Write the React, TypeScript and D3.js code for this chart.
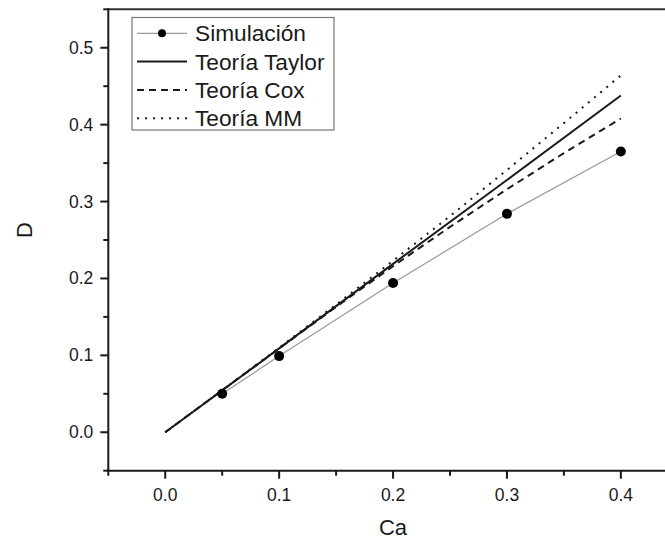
import React, { useEffect, useRef } from "react";
import * as d3 from "d3";

const simCa = [0.05, 0.1, 0.2, 0.3, 0.4];
const simD = [0.05, 0.099, 0.194, 0.284, 0.365];

const taylorCa = [0, 0.1, 0.2, 0.3, 0.4];
const taylorD = [0, 0.109, 0.219, 0.328, 0.438];

const coxCa = [0, 0.05, 0.1, 0.15, 0.2, 0.25, 0.3, 0.35, 0.4];
const coxD = [0, 0.0546, 0.109, 0.163, 0.216, 0.267, 0.316, 0.363, 0.408];

const mmCa = [0, 0.05, 0.1, 0.15, 0.2, 0.25, 0.3, 0.35, 0.4];
const mmD = [0, 0.0547, 0.11, 0.166, 0.223, 0.281, 0.341, 0.402, 0.464];

const xTicks = [0, 0.1, 0.2, 0.3, 0.4];
const yTicks = [0, 0.1, 0.2, 0.3, 0.4, 0.5];
const xMinor = [-0.05, 0.05, 0.15, 0.25, 0.35, 0.45];
const yMinor = [-0.05, 0.05, 0.15, 0.25, 0.35, 0.45, 0.55];

const legendLabels = ["Simulación", "Teoría Taylor", "Teoría Cox", "Teoría MM"];

const W = 665;
const H = 540;
const FONT = "'Liberation Sans', Arial, Helvetica, sans-serif";
const INK = "#1a1a1a";

export default function App() {
  const ref = useRef<SVGSVGElement | null>(null);

  useEffect(() => {
    const svg = d3.select(ref.current);
    svg.selectAll("*").remove();

    const x = d3.scaleLinear().domain([-0.05, 0.45]).range([108.3, 677.8]);
    const y = d3.scaleLinear().domain([-0.05, 0.55]).range([470.7, 9.3]);

    svg.append("rect").attr("width", W).attr("height", H).attr("fill", "#fff");

    const x0 = x(-0.05);
    const yB = y(-0.05);
    const yT = y(0.55);

    // frame: top line, left axis, bottom axis
    svg.append("line").attr("x1", x0).attr("x2", x(0.45)).attr("y1", yT).attr("y2", yT)
      .attr("stroke", "#333").attr("stroke-width", 2);
    svg.append("line").attr("x1", x0).attr("x2", x0).attr("y1", yT - 1).attr("y2", yB + 1)
      .attr("stroke", INK).attr("stroke-width", 2);
    svg.append("line").attr("x1", x0 - 1).attr("x2", x(0.45)).attr("y1", yB).attr("y2", yB)
      .attr("stroke", INK).attr("stroke-width", 2);

    // x ticks
    const gx = svg.append("g");
    xTicks.forEach((t) => {
      gx.append("line").attr("x1", x(t)).attr("x2", x(t)).attr("y1", yB).attr("y2", yB + 8)
        .attr("stroke", INK).attr("stroke-width", 2);
      gx.append("text").attr("x", x(t)).attr("y", yB + 30).attr("text-anchor", "middle")
        .attr("font-family", FONT).attr("font-size", 17.5).attr("fill", INK)
        .text(d3.format(".1f")(t));
    });
    xMinor.forEach((t) => {
      gx.append("line").attr("x1", x(t)).attr("x2", x(t)).attr("y1", yB).attr("y2", yB + 5)
        .attr("stroke", INK).attr("stroke-width", 2);
    });

    // y ticks
    const gy = svg.append("g");
    yTicks.forEach((t) => {
      gy.append("line").attr("x1", x0).attr("x2", x0 - 8).attr("y1", y(t)).attr("y2", y(t))
        .attr("stroke", INK).attr("stroke-width", 2);
      gy.append("text").attr("x", x0 - 15).attr("y", y(t) + 6).attr("text-anchor", "end")
        .attr("font-family", FONT).attr("font-size", 17.5).attr("fill", INK)
        .text(d3.format(".1f")(t));
    });
    yMinor.forEach((t) => {
      gy.append("line").attr("x1", x0).attr("x2", x0 - 5).attr("y1", y(t)).attr("y2", y(t))
        .attr("stroke", INK).attr("stroke-width", 2);
    });

    // axis titles
    svg.append("text").attr("x", (x0 + x(0.45)) / 2).attr("y", 535).attr("text-anchor", "middle")
      .attr("font-family", FONT).attr("font-size", 22).attr("fill", INK).text("Ca");
    svg.append("text").attr("transform", `translate(32, ${(yT + yB) / 2 - 10}) rotate(-90)`)
      .attr("text-anchor", "middle")
      .attr("font-family", FONT).attr("font-size", 22).attr("fill", INK).text("D");

    const line = d3.line<[number, number]>().x((d) => x(d[0])).y((d) => y(d[1]));

    const sim = simCa.map((c, i) => [c, simD[i]] as [number, number]);
    const taylor = taylorCa.map((c, i) => [c, taylorD[i]] as [number, number]);
    const cox = coxCa.map((c, i) => [c, coxD[i]] as [number, number]);
    const mm = mmCa.map((c, i) => [c, mmD[i]] as [number, number]);

    svg.append("path").attr("d", line(mm)!).attr("fill", "none").attr("stroke", INK)
      .attr("stroke-width", 2).attr("stroke-dasharray", "2,6");
    svg.append("path").attr("d", line(cox)!).attr("fill", "none").attr("stroke", INK)
      .attr("stroke-width", 2).attr("stroke-dasharray", "7,5");
    svg.append("path").attr("d", line(taylor)!).attr("fill", "none").attr("stroke", INK)
      .attr("stroke-width", 2);
    svg.append("path").attr("d", line(sim)!).attr("fill", "none").attr("stroke", "#999")
      .attr("stroke-width", 1.2);
    svg.selectAll("circle.sim").data(sim).enter().append("circle")
      .attr("cx", (d) => x(d[0])).attr("cy", (d) => y(d[1])).attr("r", 5).attr("fill", "#000");

    // legend
    const lg = svg.append("g");
    lg.append("rect").attr("x", 132).attr("y", 17.5).attr("width", 202).attr("height", 112.5)
      .attr("fill", "#fff").attr("stroke", "#777").attr("stroke-width", 1.2);
    const rowY = [33.3, 61.5, 90, 118.3];
    const dashes = [null, null, "7,5", "2,6"];
    legendLabels.forEach((lab, i) => {
      const ly = rowY[i];
      const l = lg.append("line").attr("x1", 137).attr("x2", 187).attr("y1", ly).attr("y2", ly);
      if (i === 0) {
        l.attr("stroke", "#999").attr("stroke-width", 1.2);
        lg.append("circle").attr("cx", 162).attr("cy", ly).attr("r", 4).attr("fill", "#000");
      } else {
        l.attr("stroke", INK).attr("stroke-width", 2);
        if (dashes[i]) l.attr("stroke-dasharray", dashes[i] as string);
      }
      lg.append("text").attr("x", 195).attr("y", ly + 8)
        .attr("font-family", FONT).attr("font-size", 22.7).attr("fill", INK).text(lab);
    });
  }, []);

  return (
    <svg
      ref={ref}
      width={W}
      height={H}
      style={{ position: "absolute", left: 0, top: 0, display: "block" }}
    />
  );
}
